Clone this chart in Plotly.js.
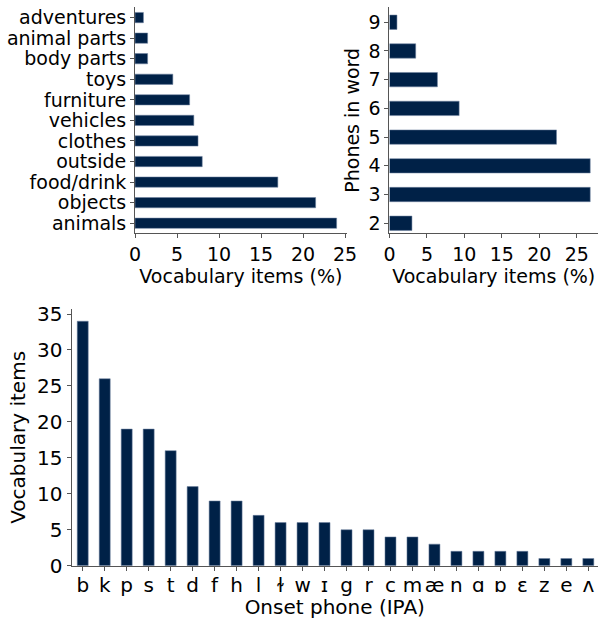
<!DOCTYPE html>
<html>
<head>
<meta charset="utf-8">
<script src="https://cdn.plot.ly/plotly-3.0.1.min.js"></script>
<style>html,body{margin:0;padding:0;background:#fff;}#chart{width:598px;height:619px;}</style>
</head>
<body>
<div id="chart"></div>
<script>
// Top-left: vocabulary by category (%)
const categories = ["animals","objects","food/drink","outside","clothes","vehicles","furniture","toys","body parts","animal parts","adventures"];
const categoryPct = [24, 21.5, 17, 8, 7.5, 7, 6.5, 4.5, 1.5, 1.5, 1];

// Top-right: phones in word (%)
const phoneCounts = [2, 3, 4, 5, 6, 7, 8, 9];
const phoneCountPct = [3.0, 26.8, 26.8, 22.3, 9.3, 6.4, 3.5, 1.0];

// Bottom: onset phone counts
const onsetPhones = ["b","k","p","s","t","d","f","h","l","ɫ","w","ɪ","g","r","c","m","æ","n","ɑ","ɒ","ɛ","z","e","ʌ"];
const onsetCounts = [34, 26, 19, 19, 16, 11, 9, 9, 7, 6, 6, 6, 5, 5, 4, 4, 3, 2, 2, 2, 2, 1, 1, 1];

const barColor = "#002147";
const edge = {color: "rgba(110,130,160,0.9)", width: 0.6};
const FONT = "DejaVu Sans, sans-serif";
const axisLine = "#555555";

const traces = [
  {type: "bar", orientation: "h", x: categoryPct, y: categories, width: 0.5,
   marker: {color: barColor, line: edge}, xaxis: "x", yaxis: "y", hoverinfo: "x+y"},
  {type: "bar", orientation: "h", x: phoneCountPct, y: phoneCounts, width: 0.5,
   marker: {color: barColor, line: edge}, xaxis: "x2", yaxis: "y2", hoverinfo: "x+y"},
  {type: "bar", x: onsetPhones, y: onsetCounts, width: 0.5,
   marker: {color: barColor, line: edge}, xaxis: "x3", yaxis: "y3", hoverinfo: "x+y"}
];

function ax(extra) {
  return Object.assign({
    showline: true, linecolor: axisLine, linewidth: 1,
    ticks: "outside", ticklen: 4, tickcolor: axisLine, tickwidth: 1,
    showgrid: false, zeroline: false, fixedrange: true,
    tickfont: {family: FONT, size: 19, color: "#000"}
  }, extra);
}
const tf = (s) => ({family: FONT, size: s, color: "#000"});

const layout = {
  width: 598, height: 619,
  margin: {l: 0, r: 0, t: 0, b: 0},
  paper_bgcolor: "#fff", plot_bgcolor: "rgba(0,0,0,0)",
  showlegend: false,
  font: {family: FONT, color: "#000"},
  xaxis: ax({domain: [0.2258, 0.5798], range: [0, 25.2], anchor: "y",
    tickmode: "array", tickvals: [0, 5, 10, 15, 20, 25],
    title: {text: "Vocabulary items (%)", font: tf(19), standoff: 5}}),
  yaxis: ax({domain: [0.6231, 0.9882], range: [-0.49, 10.5], anchor: "x",
    type: "category", categoryorder: "array", categoryarray: categories,
    tickmode: "array", tickvals: categories, ticktext: categories}),
  xaxis2: ax({domain: [0.6513, 1], range: [0, 27.84], anchor: "y2",
    tickmode: "array", tickvals: [0, 5, 10, 15, 20, 25],
    title: {text: "Vocabulary items (%)", font: tf(19), standoff: 5}}),
  yaxis2: ax({domain: [0.6231, 0.9882], range: [1.65, 9.52], anchor: "x2",
    tickmode: "array", tickvals: phoneCounts,
    title: {text: "Phones in word", font: tf(19), standoff: 3}}),
  xaxis3: ax({domain: [0.1196, 1], range: [-0.51, 23.44], anchor: "y3",
    type: "category", categoryorder: "array", categoryarray: onsetPhones,
    tickmode: "array", tickvals: onsetPhones, ticktext: onsetPhones,
    tickfont: tf(20), ticklabelstandoff: -3,
    title: {text: "Onset phone (IPA)", font: tf(20), standoff: 4}}),
  yaxis3: ax({domain: [0.0861, 0.5008], range: [0, 35.7], anchor: "x3",
    tickmode: "array", tickvals: [0, 5, 10, 15, 20, 25, 30, 35], tickfont: tf(20),
    title: {text: "Vocabulary items", font: tf(20), standoff: 6}})
};

Plotly.newPlot("chart", traces, layout, {staticPlot: true, displayModeBar: false});
</script>
</body>
</html>
